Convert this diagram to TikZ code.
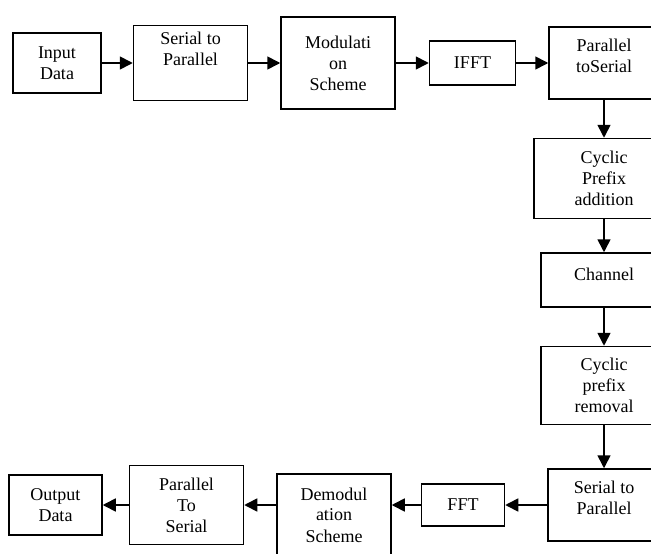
\documentclass[tikz,border=0pt]{standalone}
\usepackage{fontspec}
\setmainfont{Liberation Serif}
\usetikzlibrary{arrows.meta,positioning}
\tikzset{
  blk/.style={draw=black, line width=1.5pt, align=center, font=\fontsize{18}{21}\selectfont, inner sep=2pt},
  barr/.style={-{Triangle[length=13pt,width=13pt]}, line width=1.6pt}
}

\begin{document}
\begin{tikzpicture}
\clip (0,0) rectangle (651pt,-554pt);
% transmitter row
\node[blk, minimum width=88pt, minimum height=60pt] (inp) at (57pt,-63pt) {Input\\Data};
\node[blk, minimum width=114pt, minimum height=75pt, text depth=28pt, right=31pt of inp] (s2p) {Serial to\\Parallel};
\node[blk, minimum width=114pt, minimum height=92pt, right=32pt of s2p] (mod) {Modulati\\on\\Scheme};
\node[blk, minimum width=86pt, minimum height=44pt, right=33pt of mod] (ifft) {IFFT};
\node[blk, minimum width=110pt, minimum height=72pt, text depth=14pt, right=32pt of ifft] (p2s) {Parallel\\toSerial};
% channel column
\node[blk, minimum width=140pt, minimum height=80pt, below=38pt of p2s] (cpa) {Cyclic\\Prefix\\addition};
\node[blk, minimum width=126pt, minimum height=54pt, text depth=12pt, below=33pt of cpa] (chan) {Channel};
\node[blk, minimum width=126pt, minimum height=78pt, below=38pt of chan] (cpr) {Cyclic\\prefix\\removal};
\node[blk, minimum width=112pt, minimum height=72pt, text depth=14pt, below=43pt of cpr] (sp2) {Serial to\\Parallel};
% receiver row
\node[blk, minimum width=83pt, minimum height=42pt, left=42pt of sp2] (fft) {FFT};
\node[blk, minimum width=114pt, minimum height=110pt, text depth=28pt, anchor=north east] (demod) at ([shift={(-29pt,32pt)}]fft.west) {Demodul\\ation\\Scheme};
\coordinate (dw) at (demod.west |- fft.west);
\node[blk, minimum width=114pt, minimum height=79pt, left=32pt of dw] (pts) {Parallel\\To\\Serial};
\node[blk, minimum width=93pt, minimum height=60pt, left=26pt of pts] (out) {Output\\Data};
\draw[barr] (inp) -- (s2p); \draw[barr] (s2p) -- (mod); \draw[barr] (mod) -- (ifft); \draw[barr] (ifft) -- (p2s);
\draw[barr] (p2s) -- (cpa); \draw[barr] (cpa) -- (chan); \draw[barr] (chan) -- (cpr); \draw[barr] (cpr) -- (sp2);
\draw[barr] (sp2) -- (fft); \draw[barr] (fft.west) -- (fft.west -| demod.east);
\draw[barr] (dw) -- (pts); \draw[barr] (pts) -- (out);
\end{tikzpicture}
\end{document}
